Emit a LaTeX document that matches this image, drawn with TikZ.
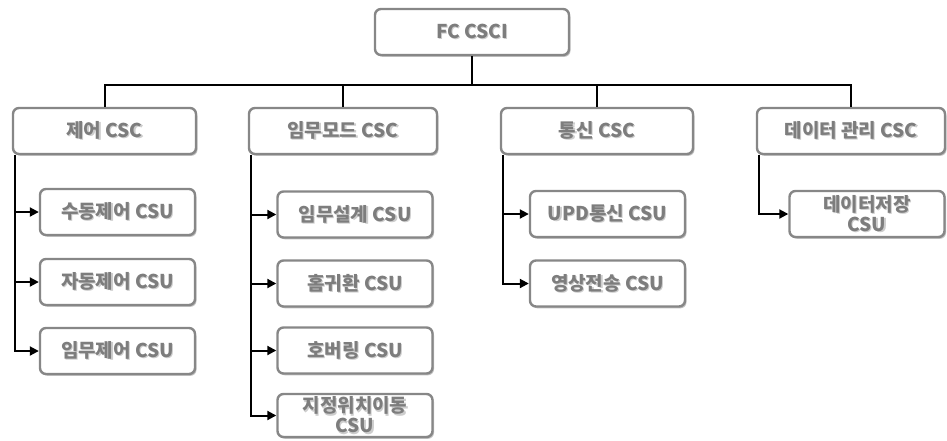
\documentclass[tikz,border=0pt]{standalone}
\usepackage{fontspec}
\newfontfamily\kr{Noto Sans CJK KR}
\usetikzlibrary{shadows,arrows.meta,calc}
\definecolor{boxgray}{RGB}{135,135,135}
\definecolor{txtgray}{RGB}{125,125,125}
\definecolor{txtshade}{RGB}{205,205,205}
% text with a soft offset copy beneath it
\newcommand{\shd}[1]{\makebox[0pt][l]{\kern1.2pt\raisebox{-1.2pt}{\textcolor{txtshade}{#1}}}#1}
\tikzset{
  box/.style={draw=boxgray, line width=2.4pt, rounded corners=6pt, fill=white,
    drop shadow={shadow xshift=1.5pt, shadow yshift=-1.8pt, opacity=.4, fill=black!60},
    font=\kr\bfseries\fontsize{19}{20}\selectfont, text=txtgray, align=center,
    inner sep=0pt, minimum height=46pt},
  csu/.style={box, minimum width=155pt},
  link/.style={line width=2pt, black},
  arr/.style={link, -{Triangle[length=9pt,width=9pt]}}
}
\begin{document}
\begin{tikzpicture}[x=1pt,y=-1pt]
\useasboundingbox (0,0) rectangle (947,440);

% root
\node[box, minimum width=194pt] (top) at (472,32) {\shd{FC CSCI}};

% CSC level
\node[box, minimum width=183pt] (c1) at (104.5,131) {\shd{제어 CSC}};
\node[box, minimum width=188pt] (c2) at (343,131) {\shd{임무모드 CSC}};
\node[box, minimum width=192pt] (c3) at (597,131) {\shd{통신 CSC}};
\node[box, minimum width=188pt] (c4) at (851,131) {\shd{데이터 관리 CSC}};

% CSU level
\node[csu] (s11) at (117.5,212) {\shd{수동제어 CSU}};
\node[csu] (s12) at (117.5,282) {\shd{자동제어 CSU}};
\node[csu] (s13) at (117.5,351) {\shd{임무제어 CSU}};

\node[csu] (s21) at (355,214.5) {\shd{임무설계 CSU}};
\node[csu] (s22) at (355,283.5) {\shd{홈귀환 CSU}};
\node[csu] (s23) at (355,350.5) {\shd{호버링 CSU}};
\node[csu, minimum height=43pt] (s24) at (355,415.5) {\shd{지정위치이동}\\\shd{CSU}};

\node[csu] (s31) at (607.5,214) {\shd{UPD통신 CSU}};
\node[csu] (s32) at (607.5,283.5) {\shd{영상전송 CSU}};

\node[csu] (s41) at (867,214) {\shd{데이터저장}\\\shd{CSU}};

% root to CSCs
\draw[link] (top.south) -- ++(0,29) coordinate (bus);
\foreach \c in {c1,c2,c3,c4}
  \draw[link] (bus) -| (\c.north);

% CSC trunks to CSUs
\foreach \c/\kids in {c1/{s11,s12,s13}, c2/{s21,s22,s23,s24}, c3/{s31,s32}, c4/{s41}} {
  \coordinate (t) at ($(\c.south west)+(3,0)$);
  \foreach \k in \kids
    \draw[arr] (t) |- (\k.west);
}
\end{tikzpicture}
\end{document}
